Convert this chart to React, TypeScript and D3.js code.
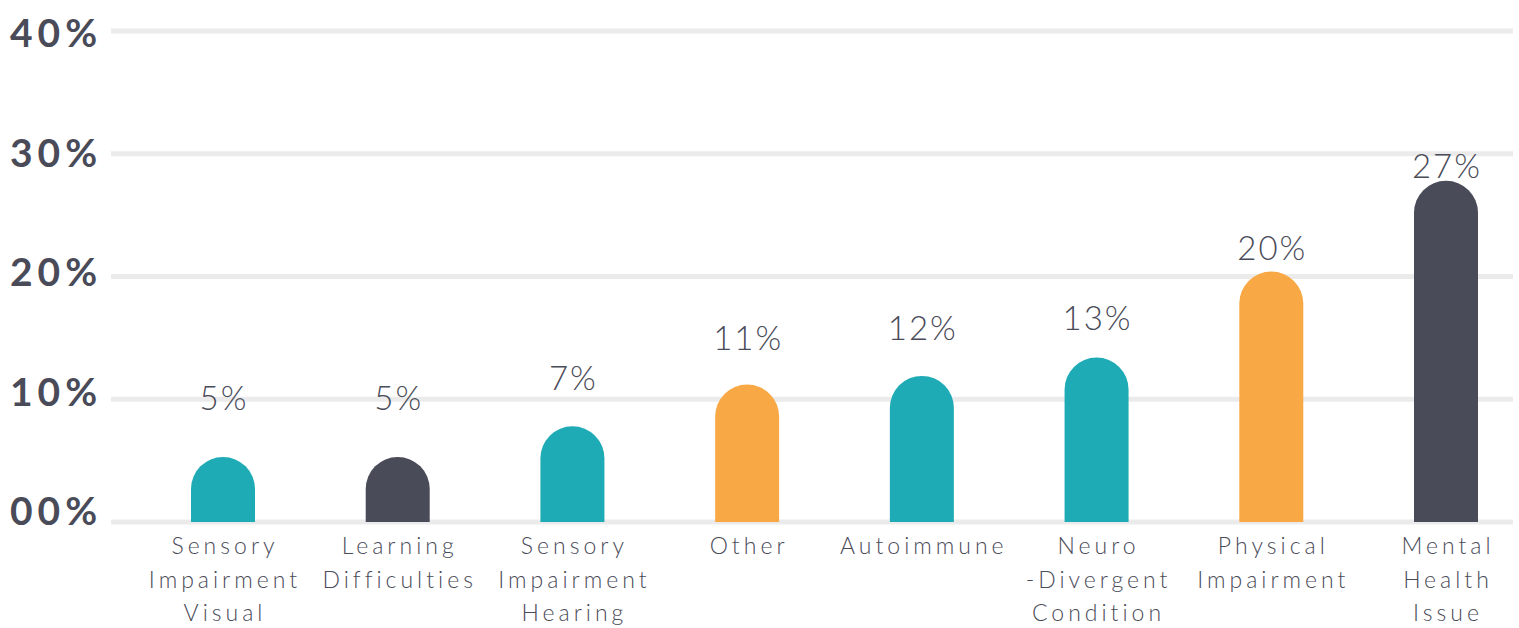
import * as d3 from "d3";

// categories, one line of label per "\n"
const categories = [
  "Sensory\nImpairment\nVisual",
  "Learning\nDifficulties",
  "Sensory\nImpairment\nHearing",
  "Other",
  "Autoimmune",
  "Neuro\n-Divergent\nCondition",
  "Physical\nImpairment",
  "Mental\nHealth\nIssue",
];

// bar heights (percent)
const values = [5.3, 5.3, 7.8, 11.2, 11.9, 13.4, 20.4, 27.8];

// the labels printed above the bars
const valueLabels = ["5%", "5%", "7%", "11%", "12%", "13%", "20%", "27%"];

// colour group of each bar
const barGroup = ["teal", "dark", "teal", "orange", "teal", "teal", "orange", "dark"];

const yTicks = [0, 10, 20, 30, 40];
const yTickLabels = ["00%", "10%", "20%", "30%", "40%"];

const W = 1519;
const H = 628;

export default function App() {
  // scales
  const x = d3.scalePoint<string>().domain(categories).range([223, 1446]);
  const y = d3.scaleLinear().domain([0, 40]).range([522, 31]);
  // the tick texts sit on their own slightly tighter grid
  const yText = d3.scaleLinear().domain([0, 40]).range([525, 47]);
  // value labels float above the bars
  const labelY = d3.scaleLinear().domain([0, 30]).range([460, 160]);
  const colour = d3
    .scaleOrdinal<string, string>()
    .domain(["teal", "dark", "orange"])
    .range(["#1eabb5", "#4a4b58", "#f8a946"]);

  const barW = 64;
  const r = barW / 2;

  const barPath = (v: number, cx: number) => {
    const p = d3.path();
    const x0 = cx - r;
    const x1 = cx + r;
    const top = y(v);
    const base = y(0);
    p.moveTo(x0, base);
    p.lineTo(x0, top + r);
    p.arc(cx, top + r, r, Math.PI, 2 * Math.PI);
    p.lineTo(x1, base);
    p.closePath();
    return p.toString();
  };

  return (
    <svg
      width={W}
      height={H}
      style={{ position: "absolute", left: 0, top: 0, background: "#fff" }}
    >
      {/* grid */}
      <g>
        {yTicks.map((t) => (
          <line
            key={t}
            x1={111}
            x2={1513}
            y1={y(t)}
            y2={y(t)}
            stroke="#ebebec"
            strokeWidth={5}
          />
        ))}
      </g>

      {/* y labels */}
      <g fontFamily="Lato, sans-serif" fontWeight={700} fontSize={39} fill="#4a4b58">
        {yTicks.map((t, i) => (
          <text key={t} x={10} y={yText(t)} letterSpacing={5}>
            {yTickLabels[i]}
          </text>
        ))}
      </g>

      {/* bars */}
      <g>
        {categories.map((c, i) => (
          <path key={c} d={barPath(values[i], x(c)!)} fill={colour(barGroup[i])} />
        ))}
      </g>

      {/* value labels */}
      <g fontFamily="Lato, sans-serif" fontWeight={300} fontSize={33} fill="#4a4b58" textAnchor="middle">
        {categories.map((c, i) => (
          <text
            key={c}
            x={x(c)! + 1}
            y={Math.min(labelY(+valueLabels[i].replace("%", "")), y(values[i]) - 3)}
            letterSpacing={2}
          >
            {valueLabels[i]}
          </text>
        ))}
      </g>

      {/* category labels */}
      <g fontFamily="Lato, sans-serif" fontWeight={300} fontSize={23} fill="#4a4b58" textAnchor="middle">
        {categories.map((c) => (
          <text key={c} x={x(c)! + 2} y={554} letterSpacing={4}>
            {c.split("\n").map((line, j) => (
              <tspan key={j} x={x(c)! + 2} dy={j === 0 ? 0 : 33.5}>
                {line}
              </tspan>
            ))}
          </text>
        ))}
      </g>
    </svg>
  );
}
